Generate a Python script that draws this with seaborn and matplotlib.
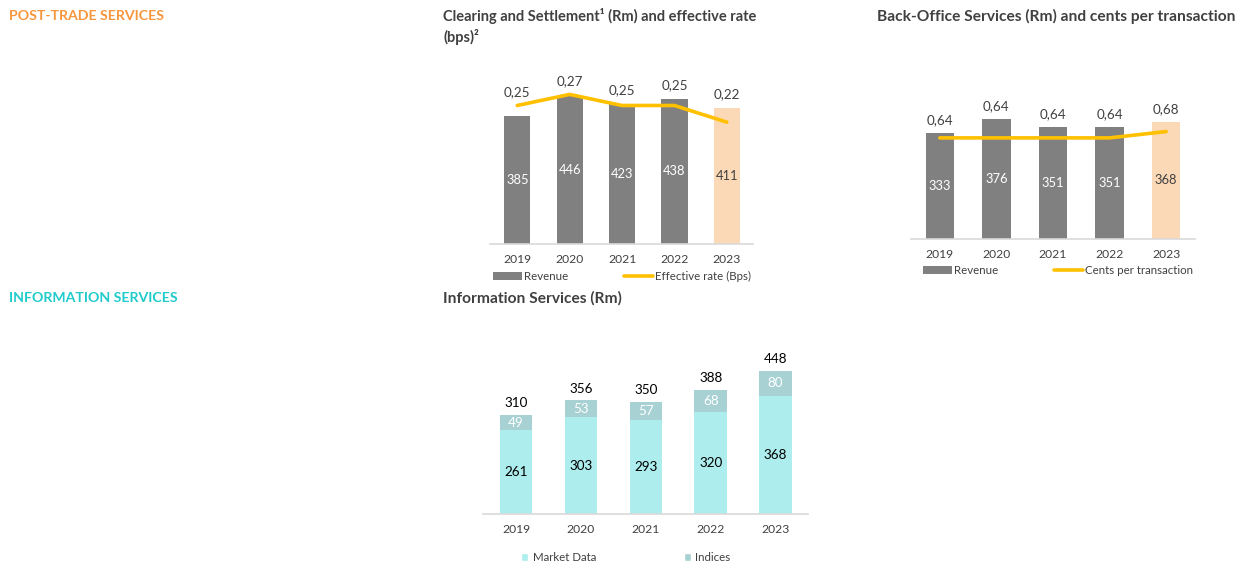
import numpy as np
import matplotlib
matplotlib.use("Agg")
import matplotlib.pyplot as plt
import seaborn as sns
from matplotlib.patches import Patch
from matplotlib.lines import Line2D

# data
years = ["2019", "2020", "2021", "2022", "2023"]
clearing_rev = [385, 446, 423, 438, 411]
clearing_rate = [0.25, 0.27, 0.25, 0.25, 0.22]
backoffice_rev = [333, 376, 351, 351, 368]
backoffice_cents = [0.64, 0.64, 0.64, 0.64, 0.68]
market_data = [261, 303, 293, 320, 368]
indices = [49, 53, 57, 68, 80]

# colours
GREY = "#808080"
PEACH = "#FCD9B6"
GOLD = "#FFC000"
MARKET = "#AEEDED"
INDEX = "#A8D1D4"
TXT = "#404040"
ORANGE = "#F7963C"
CYAN = "#1FCBCB"

sns.set_theme(style="white")
plt.rcParams["font.family"] = ["Lato", "DejaVu Sans"]

W, H = 1247, 564
fig = plt.figure(figsize=(W / 100, H / 100), dpi=100)


def px_axes(left, top, right, bottom):
    # axes box from pixel edges
    return fig.add_axes([left / W, 1 - bottom / H, (right - left) / W, (bottom - top) / H])


def fmt_rate(v):
    return f"{v:.2f}".replace(".", ",")


def style_axis(ax, xlim):
    for s in ["top", "right", "left"]:
        ax.spines[s].set_visible(False)
    ax.spines["bottom"].set_color("#D9D9D9")
    ax.spines["bottom"].set_linewidth(1.2)
    ax.set_yticks([])
    ax.set_xlim(*xlim)
    ax.set_xlabel("")
    ax.set_ylabel("")
    ax.tick_params(axis="x", length=0, pad=7, labelsize=8.7, labelcolor=TXT)


def combo_chart(ax, rev, rate, rev_top, rate_top, line_label, legend_xy):
    colors = [GREY] * 4 + [PEACH]
    sns.barplot(x=years, y=rev, hue=years, palette=colors, dodge=False, width=0.5,
                saturation=1, legend=False, linewidth=0, ax=ax)
    ax.set_ylim(0, rev_top)
    for i, v in enumerate(rev):
        ax.text(i, v / 2, str(v), ha="center", va="center", fontsize=9.3,
                color="white" if i < 4 else TXT)
    ax2 = ax.twinx()
    sns.lineplot(x=np.arange(len(years)), y=rate, color=GOLD, linewidth=2.6, ax=ax2)
    ax2.set_ylim(0, rate_top)
    ax2.set_axis_off()
    for i, v in enumerate(rate):
        y = max(v, rev[i] / rev_top * rate_top)
        ax2.annotate(fmt_rate(v), (i, y), xytext=(0, 5), textcoords="offset points",
                     ha="center", va="bottom", fontsize=9.7, color=TXT)
    handles = [Patch(facecolor=GREY, edgecolor="none"),
               Line2D([0], [0], color=GOLD, lw=2.6)]
    fig.legend(handles, ["Revenue", line_label], loc="center left",
               bbox_to_anchor=(legend_xy[0] / W, 1 - legend_xy[1] / H), ncol=2,
               frameon=False, fontsize=8.3, handlelength=2.5, handleheight=0.65,
               handletextpad=0.15, columnspacing=4.9, borderpad=0, borderaxespad=0,
               labelcolor=TXT)
    return ax2


# Clearing and Settlement
ax1 = px_axes(490, 60, 753, 244)
combo_chart(ax1, clearing_rev, clearing_rate, 184 / 0.332, 184 / 554,
            "Effective rate (Bps)", (493, 276.5))
style_axis(ax1, (-0.52, 4.5))

# Back-Office
ax3 = px_axes(911, 60, 1195, 239)
combo_chart(ax3, backoffice_rev, backoffice_cents, 179 / 0.318, 179 / 158,
            "Cents per transaction", (923, 270.5))
style_axis(ax3, (-0.51, 4.51))

# Information Services (stacked)
totals = [m + i for m, i in zip(market_data, indices)]
ax4 = px_axes(483, 340, 808, 514)
sns.barplot(x=years, y=totals, color=INDEX, width=0.5, saturation=1, linewidth=0, ax=ax4)
sns.barplot(x=years, y=market_data, color=MARKET, width=0.5, saturation=1, linewidth=0, ax=ax4)
ax4.set_ylim(0, 174 / 0.32)
for i in range(len(years)):
    ax4.text(i, market_data[i] / 2, str(market_data[i]), ha="center", va="center",
             fontsize=9.7, color="black")
    ax4.text(i, market_data[i] + indices[i] / 2, str(indices[i]), ha="center", va="center",
             fontsize=9.7, color="white")
    ax4.annotate(str(totals[i]), (i, totals[i]), xytext=(0, 4), textcoords="offset points",
                 ha="center", va="bottom", fontsize=9.7, color="black")
style_axis(ax4, (-0.51, 4.5))
fig.legend([Patch(facecolor=MARKET), Patch(facecolor=INDEX)], ["Market Data", "Indices"],
           loc="center left", bbox_to_anchor=(521 / W, 1 - 557.5 / H), ncol=2,
           frameon=False, fontsize=8.3, handlelength=0.65, handleheight=0.65,
           handletextpad=0.35, columnspacing=7.6, borderpad=0, borderaxespad=0,
           labelcolor=TXT)

# titles and section headers
fig.text(9 / W, 1 - 16 / H, "POST-TRADE SERVICES", color=ORANGE, fontsize=10.2,
         fontweight="bold", va="center")
fig.text(9 / W, 1 - 298 / H, "INFORMATION SERVICES", color=CYAN, fontsize=10.2,
         fontweight="bold", va="center")
fig.text(443 / W, 1 - 16 / H, "Clearing and Settlement¹ (Rm) and effective rate",
         color=TXT, fontsize=10.5, fontweight="bold", va="center")
fig.text(443 / W, 1 - 37 / H, "(bps)²", color=TXT, fontsize=10.5, fontweight="bold",
         va="center")
fig.text(877 / W, 1 - 16 / H, "Back-Office Services (Rm) and cents per transaction",
         color=TXT, fontsize=11.2, fontweight="bold", va="center")
fig.text(443 / W, 1 - 298 / H, "Information Services (Rm)", color=TXT, fontsize=11.2,
         fontweight="bold", va="center")

fig.savefig("out.png", dpi=100, facecolor="white")
